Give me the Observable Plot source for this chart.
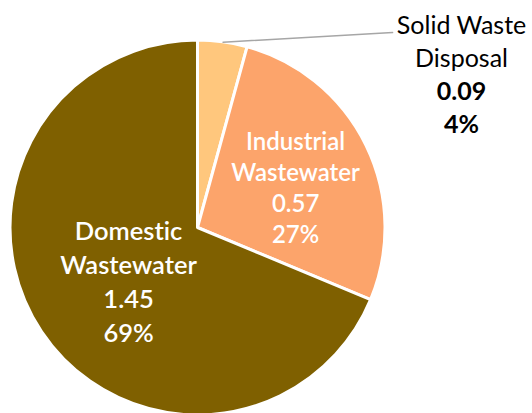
<!DOCTYPE html>
<html>
<head>
<meta charset="utf-8">
<script src="https://cdn.jsdelivr.net/npm/d3@7"></script>
<script src="https://cdn.jsdelivr.net/npm/@observablehq/plot@0.6"></script>
<style>
  html, body { margin: 0; padding: 0; background: #fff; }
  #chart svg { display: block; }
  #chart text { font-variant-ligatures: none; }
</style>
</head>
<body>
<div id="chart"></div>
<script>
// ---- data ----
const categories = ["Solid Waste Disposal", "Industrial Wastewater", "Domestic Wastewater"];
const nameLines = [["Solid Waste", "Disposal"], ["Industrial", "Wastewater"], ["Domestic", "Wastewater"]];
const values = [0.09, 0.57, 1.45];
const percentLabels = ["4%", "27%", "69%"];

// ---- style / layout ----
const colors = ["#FFC77D", "#FCA46B", "#7F6000"];
const W = 532, H = 413;
const cx = 197.5, cy = 227.5, R = 187.5;
const labelLayout = [
  {angle: 61.2, dist: 1.604, gap: 33, size: 25, weight: 400, fill: "#000", boldValues: true},
  {angle: 72.1, dist: 0.547, gap: 31.3, size: 24, weight: 600, fill: "#fff", boldValues: false},
  {angle: 227.8, dist: 0.500, gap: 34.3, size: 25.5, weight: 600, fill: "#fff", boldValues: false}
];

const pie = d3.pie().sort(null).value(d => d)(values);

// data units: 1 = pie radius, origin at pie centre, y up
const xDomain = [-cx / R, (W - cx) / R];
const yDomain = [-(H - cy) / R, cy / R];
const polar = (deg, r) => {
  const a = deg * Math.PI / 180;
  return [r * Math.sin(a), r * Math.cos(a)];
};

// label rows
const rows = [];
categories.forEach((c, i) => {
  const L = labelLayout[i];
  const [ax, ay] = polar(L.angle, L.dist);
  const lines = [
    {text: nameLines[i][0], bold: false},
    {text: nameLines[i][1], bold: false},
    {text: d3.format(".2f")(values[i]), bold: L.boldValues},
    {text: percentLabels[i], bold: L.boldValues}
  ];
  const n = lines.length;
  lines.forEach((ln, j) => {
    rows.push({
      x: ax,
      y: ay - ((j - (n - 1) / 2) * L.gap) / R, // baseline
      text: ln.text,
      weight: ln.bold ? 700 : L.weight,
      size: L.size,
      fill: L.fill
    });
  });
});

// leader line for outside label (Solid Waste)
const s0 = pie[0];
const midDeg = ((s0.startAngle + s0.endAngle) / 2) * 180 / Math.PI;
const [lx0, ly0] = polar(midDeg, 1.0);
const solidFirst = rows[0];
const leader = [
  {x: lx0, y: ly0},
  {x: solidFirst.x - 69 / R, y: solidFirst.y + 1 / R}
];

const slicesMark = (index, scales) => {
  const X = scales.x, Y = scales.y;
  const r = X(1) - X(0);
  const g = d3.create("svg:g").attr("transform", `translate(${X(0)},${Y(0)})`);
  const arc = d3.arc().innerRadius(0).outerRadius(r);
  g.selectAll("path").data(pie).join("path")
    .attr("d", arc)
    .attr("fill", (d, i) => colors[i])
    .attr("stroke", "#fff")
    .attr("stroke-width", 3)
    .attr("stroke-linejoin", "round");
  return g.node();
};

const font = "Lato, 'Open Sans', sans-serif";
const groups = d3.groups(rows, d => d.size, d => d.weight);
const textMarks = [];
for (const [sz, byW] of groups) {
  for (const [wt, data] of byW) {
    textMarks.push(Plot.text(data, {
      x: "x", y: "y", text: "text", fill: "fill",
      fontSize: sz, fontWeight: wt,
      textAnchor: "middle", lineAnchor: "bottom"
    }));
  }
}

const chart = Plot.plot({
  width: W,
  height: H,
  margin: 0,
  style: {fontFamily: font, background: "#fff", overflow: "hidden"},
  x: {domain: xDomain, range: [0, W], axis: null},
  y: {domain: yDomain, range: [H, 0], axis: null},
  marks: [
    slicesMark,
    Plot.line(leader, {x: "x", y: "y", stroke: "#A6A6A6", strokeWidth: 1.5}),
    ...textMarks
  ]
});
document.getElementById("chart").appendChild(chart);
</script>
</body>
</html>
